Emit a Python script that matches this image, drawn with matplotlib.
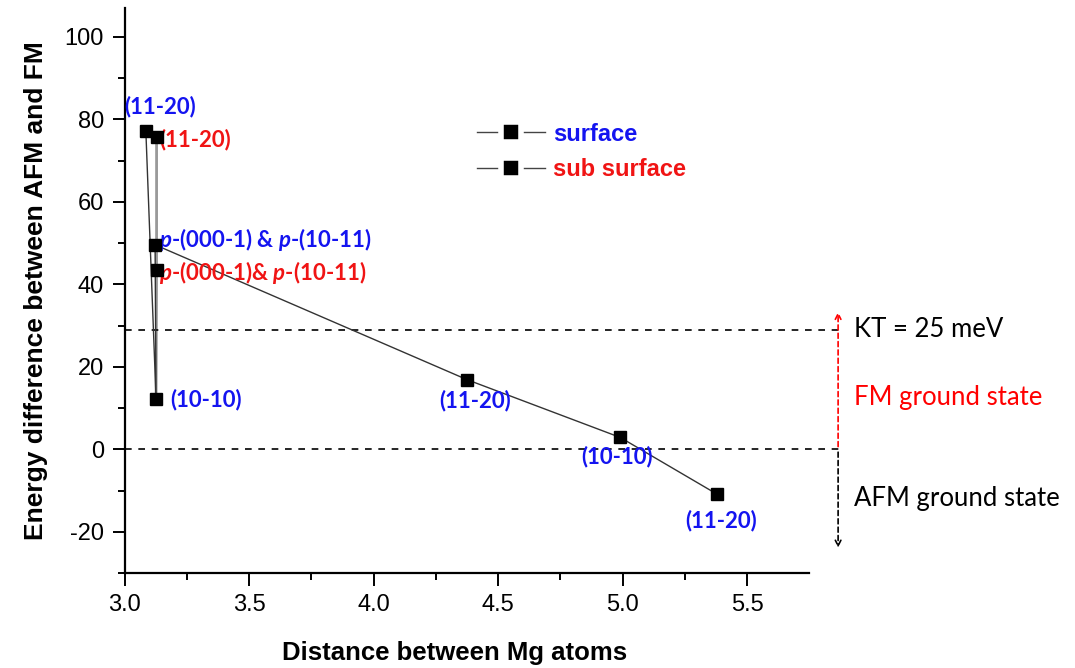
import matplotlib.pyplot as plt
from matplotlib.lines import Line2D

plt.rcParams["mathtext.fontset"] = "custom"
plt.rcParams["mathtext.bfit"] = "Lato:bold:italic"
plt.rcParams["mathtext.rm"] = "Lato"
plt.rcParams["axes.unicode_minus"] = False

# surface series (blue labels)
surf_x = [3.085, 3.126, 3.122, 4.375, 4.99, 5.38]
surf_y = [77.1, 12.1, 49.6, 16.9, 2.9, -10.9]
surf_labels = ["(11-20)", "(10-10)", "$\\mathbfit{p}$-(000-1) & $\\mathbfit{p}$-(10-11)",
               "(11-20)", "(10-10)", "(11-20)"]

# sub surface series (red labels)
sub_x = [3.128, 3.128]
sub_y = [75.8, 43.6]
sub_labels = ["(11-20)", "$\\mathbfit{p}$-(000-1)& $\\mathbfit{p}$-(10-11)"]

kt_level = 29
zero_level = 0

BLUE = "#1414f0"
RED = "#f01414"

fig = plt.figure(figsize=(10.75, 6.68), dpi=100)
ax = fig.add_axes([0.116, 0.142, 0.637, 0.846])

ax.plot(sub_x + [surf_x[1]], sub_y + [surf_y[1]], color="#999999", lw=2.0, zorder=2)
ax.plot(sub_x, sub_y, "s", color="black", ms=8.5, zorder=4)
ax.plot(surf_x, surf_y, "-", color="#333333", lw=1.0, zorder=3)
ax.plot(surf_x, surf_y, "s", color="black", ms=8.5, zorder=4)

lab_font = dict(fontfamily="Lato", fontweight="bold", fontsize=16)
# label offsets in points
surf_off = [(10, 18, "center"), (10, 0, "left"), (3, 4, "left"),
            (6, -15, "center"), (-2, -14, "center"), (3, -19, "center")]
for x, y, t, (dx, dy, ha) in zip(surf_x, surf_y, surf_labels, surf_off):
    ax.annotate(t, (x, y), xytext=(dx, dy), textcoords="offset points",
                ha=ha, va="center", color=BLUE, **lab_font)
sub_off = [(2, -2, "left"), (2, -2, "left")]
for x, y, t, (dx, dy, ha) in zip(sub_x, sub_y, sub_labels, sub_off):
    ax.annotate(t, (x, y), xytext=(dx, dy), textcoords="offset points",
                ha=ha, va="center", color=RED, **lab_font)

# reference lines
dash = (0, (4, 4))
for lvl in [kt_level, zero_level]:
    ax.plot([3.0, 5.87], [lvl, lvl], color="black", ls=dash, lw=1.2, clip_on=False)

ax.annotate("", xy=(5.865, 34), xytext=(5.865, 0),
            arrowprops=dict(arrowstyle="->", color="red", ls=(0, (3, 2)), lw=1.2),
            annotation_clip=False)
ax.annotate("", xy=(5.865, -24.5), xytext=(5.865, 0),
            arrowprops=dict(arrowstyle="->", color="black", ls=(0, (3, 2)), lw=1.2),
            annotation_clip=False)

side_font = dict(fontfamily="Lato", fontsize=18.5, va="center", ha="left")
ax.text(5.93, kt_level, "KT = 25 meV", color="black", clip_on=False, **side_font)
ax.text(5.93, 12.5, "FM ground state", color="red", clip_on=False, **side_font)
ax.text(5.93, -12, "AFM ground state", color="black", clip_on=False, **side_font)

ax.set_xlim(3.0, 5.75)
ax.set_ylim(-30, 107)
ax.set_xticks([3.0, 3.5, 4.0, 4.5, 5.0, 5.5])
ax.set_xticks([3.25, 3.75, 4.25, 4.75, 5.25], minor=True)
ax.set_yticks([-20, 0, 20, 40, 60, 80, 100])
ax.set_yticks([-30, -10, 10, 30, 50, 70, 90], minor=True)
ax.spines["top"].set_visible(False)
ax.spines["right"].set_visible(False)
for s in ["left", "bottom"]:
    ax.spines[s].set_linewidth(1.6)
ax.tick_params(which="major", length=9, width=1.4, labelsize=17, pad=6)
ax.tick_params(which="minor", length=5, width=1.4)
for lbl in ax.get_xticklabels() + ax.get_yticklabels():
    lbl.set_fontfamily("Liberation Sans")

ax.set_xlabel("Distance between Mg atoms", fontfamily="Liberation Sans",
              fontweight="bold", fontsize=18.5, labelpad=18)
ax.xaxis.label.set_x(0.482)
ax.set_ylabel("Energy difference between AFM and FM", fontfamily="Liberation Sans",
              fontweight="bold", fontsize=19, labelpad=12)

handles = [Line2D([], [], color="#444444", lw=1, marker="s", ms=14, mfc="black",
                  mec="white", mew=4) for _ in range(2)]
ax.legend(handles, ["surface", "sub surface"], loc="upper left",
          bbox_to_anchor=(0.483, 0.835), frameon=False, handlelength=2.9,
          handletextpad=0.35, labelcolor=[BLUE, RED],
          prop=dict(family="Liberation Sans", weight="bold", size=17),
          labelspacing=0.55)

fig.savefig("out.png", dpi=100)
